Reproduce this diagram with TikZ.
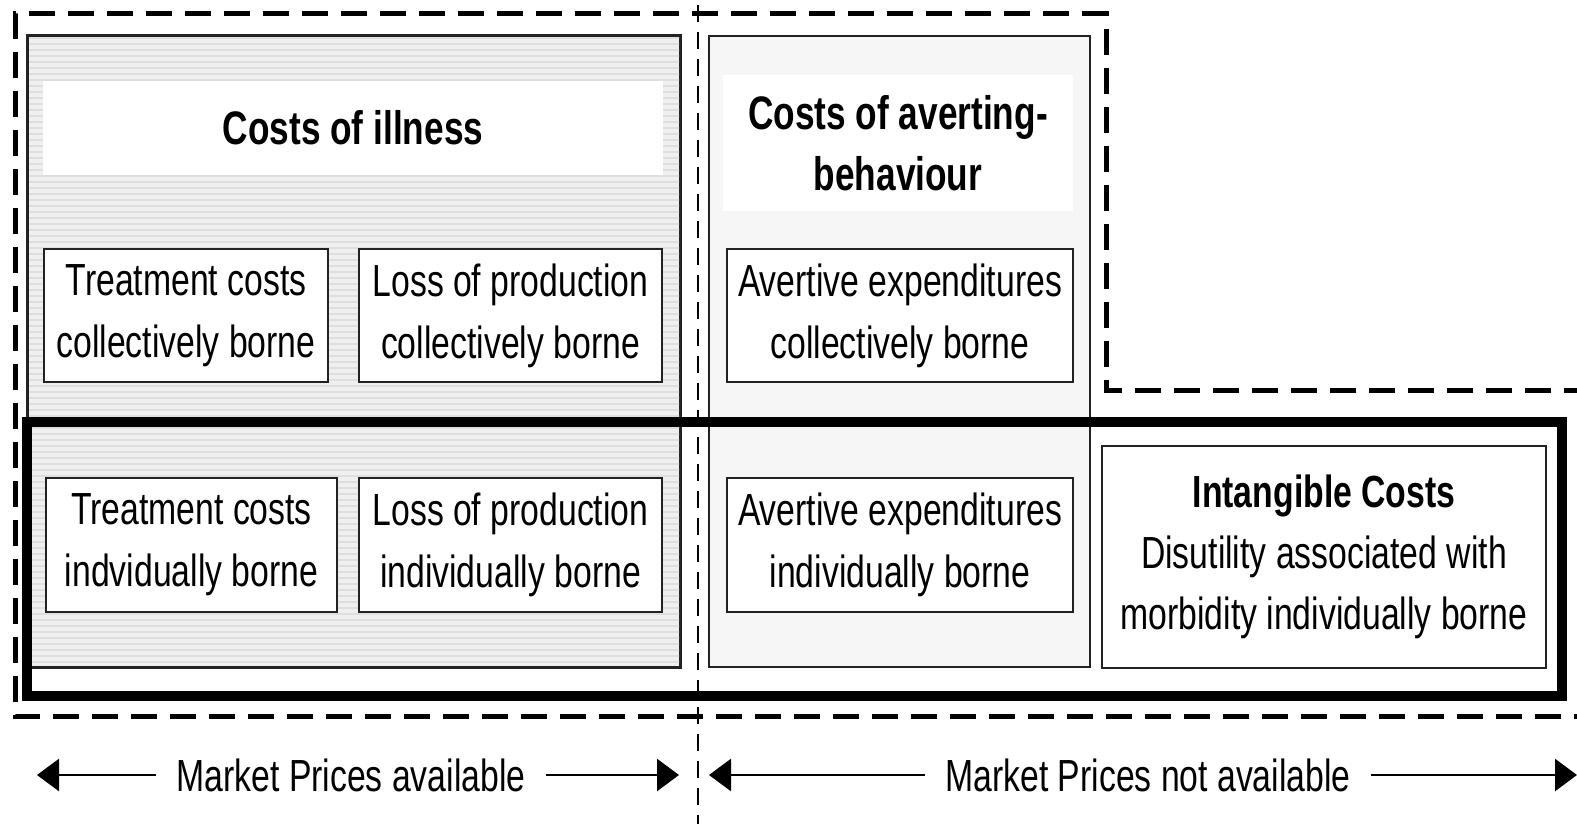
\documentclass[tikz,border=0pt]{standalone}
\usepackage{fontspec}
\setmainfont{Liberation Sans}[FakeStretch=0.75]
\usetikzlibrary{arrows.meta}
\definecolor{stripeA}{HTML}{EFEFEF}
\definecolor{stripeB}{HTML}{DEDEDE}
\definecolor{dotfill}{HTML}{F6F6F6}
\definecolor{edge}{HTML}{222222}
\begin{document}
\begin{tikzpicture}[x=1pt,y=-1pt,
  groupbox/.style={draw=edge,line width=2pt,inner sep=0pt},
  titlebox/.style={fill=white,inner sep=0pt,align=center,font=\fontsize{47}{61}\selectfont\bfseries},
  costbox/.style={draw=edge,line width=2pt,fill=white,align=center,inner sep=0pt,
    font=\fontsize{45}{62}\selectfont},
  pricelabel/.style={inner xsep=20pt,inner ysep=0pt,font=\fontsize{45}{62}\selectfont},
  pricearrow/.style={line width=2.5pt,-{Triangle[length=22pt,width=32pt]}},
  scopeline/.style={line width=5pt,dash pattern=on 26pt off 13pt},
  divider/.style={line width=2pt,dash pattern=on 17pt off 10pt},
  individual/.style={line width=10pt}
]
\useasboundingbox (0,0) rectangle (1577,824);

% cost-of-illness group: striped grey panel
\node[groupbox,fill=stripeA,minimum width=652,minimum height=631] (illness) at (354,351.5) {};
\begin{scope}
  \clip (29,37) rectangle (679,666);
  \foreach \yy in {38,44,...,668} \draw[stripeB,line width=2.5pt] (28,\yy) -- (680,\yy);
\end{scope}
\draw[edge,line width=2pt] (illness.north west) rectangle (illness.south east);

% averting-behaviour group: light dotted panel
\node[groupbox,fill=dotfill,minimum width=381,minimum height=631] (averting) at (899.5,351.5) {};

% group headings
\node[titlebox,minimum width=620,minimum height=94] (illnessTitle) at (353,128) {Costs of illness};
\node[titlebox,minimum width=350,minimum height=135] (avertTitle) at (898,143) {Costs of averting-\\behaviour};

% collectively borne costs
\node[costbox,minimum width=284,minimum height=133] (tcc) at (186,315.5) {Treatment costs\\collectively borne};
\node[costbox,minimum width=303,minimum height=133] (lpc) at (510.5,315.5) {Loss of production\\collectively borne};
\node[costbox,minimum width=346,minimum height=133] (aec) at (900,315.5) {Avertive expenditures\\collectively borne};

% individually borne costs
\node[costbox,minimum width=291,minimum height=134] (tci) at (191.5,545) {Treatment costs\\indvidually borne};
\node[costbox,minimum width=303,minimum height=134] (lpi) at (510.5,545) {Loss of production\\individually borne};
\node[costbox,minimum width=346,minimum height=134] (aei) at (900,545) {Avertive expenditures\\individually borne};
\node[costbox,minimum width=444,minimum height=222,font=\fontsize{45}{61}\selectfont] (intangible) at (1324,557)
  {\textbf{Intangible Costs}\\Disutility associated with\\morbidity individually borne};

% frame around all individually borne costs
\node[draw,individual,minimum width=1535,minimum height=274,inner sep=0pt] (indivFrame) at (794.5,559) {};

% dashed frame around the costs that can be valued
\coordinate (sA) at (1590,390);
\coordinate (sB) at (1106,390);
\coordinate (sC) at (1106,14);
\coordinate (sD) at (15,14);
\coordinate (sE) at (15,716);
\coordinate (sF) at (1590,716);
\draw[scopeline] (sA) -- (sB) -- (sC) -- (sD) -- (sE) -- (sF);

% divider between market and non-market prices
\coordinate (dTop) at (698,5);
\coordinate (dBot) at (698,824);
\draw[divider] (dTop) -- (dBot);

% bottom labels with arrows
\node[pricelabel] (mpa) at (351,775) {Market Prices available};
\coordinate (mpaL) at (37,775);
\coordinate (mpaR) at (679,775);
\draw[pricearrow] (mpa.west) -- (mpaL);
\draw[pricearrow] (mpa.east) -- (mpaR);

\node[pricelabel] (mpn) at (1148,775) {Market Prices not available};
\coordinate (mpnL) at (709,775);
\coordinate (mpnR) at (1577,775);
\draw[pricearrow] (mpn.west) -- (mpnL);
\draw[pricearrow] (mpn.east) -- (mpnR);
\end{tikzpicture}
\end{document}
